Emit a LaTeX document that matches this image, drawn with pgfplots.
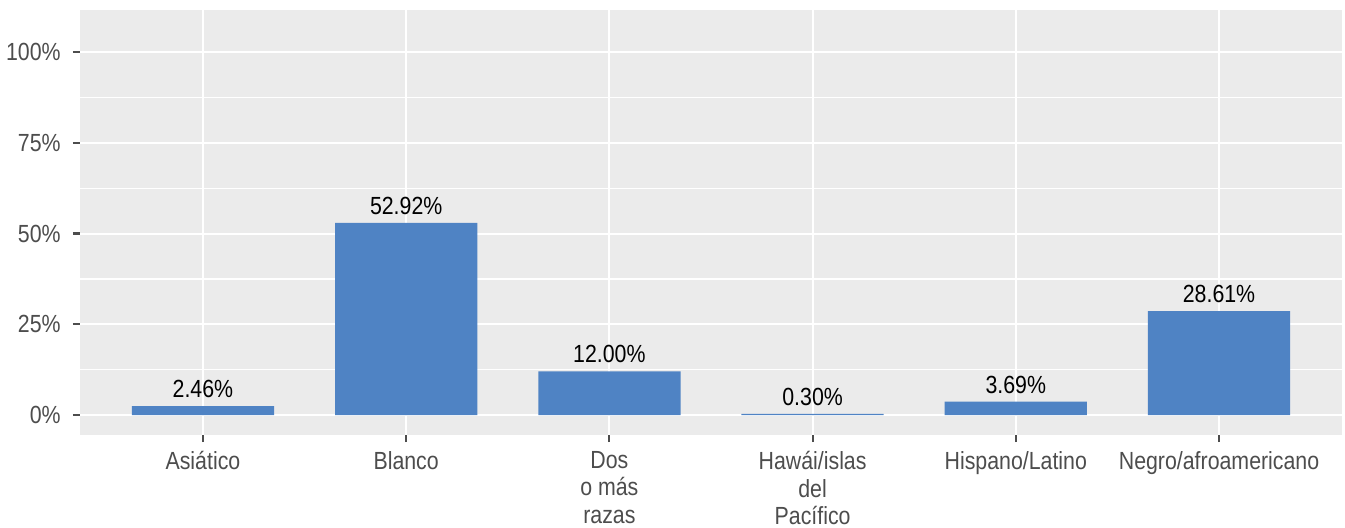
\documentclass[border=0pt]{standalone}
\usepackage{fontspec}
\setmainfont{Liberation Sans}[FakeStretch=0.86]
\usepackage{pgfplots}
\pgfplotsset{compat=1.18}
\usepackage{pgfplotstable}
\definecolor{panelgrey}{HTML}{EBEBEB}
\definecolor{barblue}{HTML}{4F83C4}
\definecolor{tickgrey}{HTML}{4D4D4D}
\pgfplotstableread{
x y lab
0 2.46 2.46
1 52.92 52.92
2 12.00 12.00
3 0.30 0.30
4 3.69 3.69
5 28.61 28.61
}\datatable
\begin{document}
\begin{tikzpicture}
\path[use as bounding box] (-40pt,-46pt) rectangle (632.5pt,217.5pt);
\begin{axis}[
  at={(0,0)}, anchor=south west,
  scale only axis, width=631pt, height=212.5pt,
  xmin=-0.605, xmax=5.605, ymin=-5.5, ymax=111.6,
  axis background/.style={fill=panelgrey},
  axis line style={draw=none},
  tick align=outside, tick pos=left,
  major tick length=3.5pt, minor tick length=0pt,
  major tick style={draw=tickgrey, line width=1.1pt},
  xtick={0,1,2,3,4,5},
  xticklabels={Asiático, Blanco, {Dos\\o más\\razas}, {Hawái/islas\\del\\Pacífico}, Hispano/Latino, Negro/afroamericano},
  ytick={0,25,50,75,100},
  yticklabels={0\%,25\%,50\%,75\%,100\%},
  minor ytick={12.5,37.5,62.5,87.5,112.5},
  grid=both,
  major grid style={white, line width=1pt},
  minor grid style={white, line width=0.6pt},
  tick label style={font=\fontsize{12.4}{13.75}\selectfont, text=tickgrey},
  xticklabel style={align=center, inner ysep=4.5pt},
  yticklabel style={inner xsep=6pt},
  ybar, bar width=0.7,
  point meta=explicit symbolic,
  nodes near coords={\pgfplotspointmeta\%},
  every node near coord/.append style={font=\fontsize{12.4}{13.75}\selectfont, text=black, inner ysep=4pt},
]
\addplot[draw=none, fill=barblue] table[x=x, y=y, meta=lab] {\datatable};
\end{axis}
\end{tikzpicture}
\end{document}
